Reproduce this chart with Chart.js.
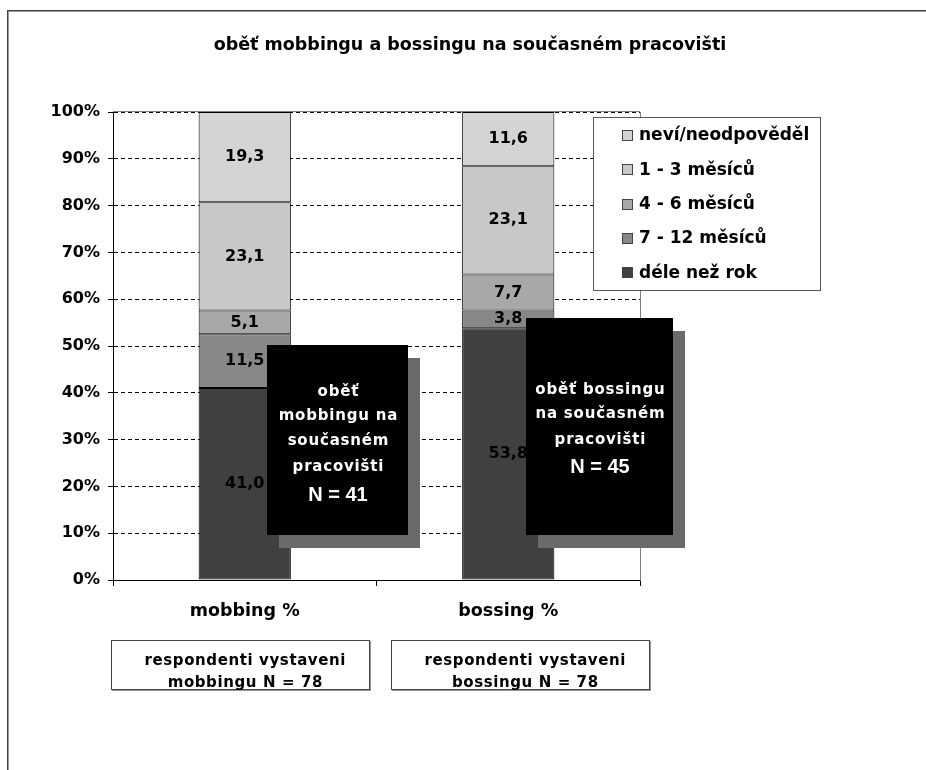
<!DOCTYPE html>
<html>
<head>
<meta charset="utf-8">
<script src="https://cdn.jsdelivr.net/npm/chart.js@4/dist/chart.umd.min.js"></script>
<style>
  body { margin: 0; background: #fff; }
  canvas { display: block; }
</style>
</head>
<body>
<canvas id="chart" width="926" height="770"></canvas>
<script>
// values (percent of respondents)
const categories = ['mobbing %', 'bossing %'];
const seriesNames = ['déle než rok', '7 - 12 měsíců', '4 - 6 měsíců', '1 - 3 měsíců', 'neví/neodpověděl'];
const deleNezRok = [41.0, 53.8];
const mesicu7az12 = [11.5, 3.8];
const mesicu4az6 = [5.1, 7.7];
const mesicu1az3 = [23.1, 23.1];
const nevi = [19.3, 11.6];
const seriesColors = ['#404040', '#888888', '#a8a8a8', '#c8c8c8', '#d4d4d4'];

const titleText = 'oběť mobbingu a bossingu na současném pracovišti';
const noteMobbing = ['oběť', 'mobbingu na', 'současném', 'pracovišti', 'N = 41'];
const noteBossing = ['oběť bossingu', 'na současném', 'pracovišti', 'N = 45'];
const baseMobbing = ['respondenti vystaveni', 'mobbingu N = 78'];
const baseBossing = ['respondenti vystaveni', 'bossingu N = 78'];

const FONT = 'DejaVu Sans';

function spaced(ctx, txt, x, y, sp) {
    ctx.letterSpacing = sp + 'px';
    ctx.fillText(txt, x + sp / 2, y);
    ctx.letterSpacing = '0px';
}

// frame, plot border, white background
const backgroundPlugin = {
    id: 'background',
    beforeDraw(chart) {
        const ctx = chart.ctx;
        const a = chart.chartArea;
        ctx.save();
        ctx.fillStyle = '#fff';
        ctx.fillRect(0, 0, chart.width, chart.height);
        ctx.fillStyle = '#444';
        ctx.fillRect(7, 10, chart.width - 7, 1);
        ctx.fillRect(7, 10, 1, chart.height - 10);
        ctx.fillStyle = '#999';
        ctx.fillRect(8, 11, chart.width - 8, 1);
        ctx.fillRect(8, 11, 1, chart.height - 11);
        ctx.fillStyle = '#808080';
        ctx.fillRect(a.left, a.top - 1, a.right - a.left, 1);
        ctx.restore();
    }
};

// value labels in the bar segments
const valueLabels = {
    id: 'valueLabels',
    afterDatasetsDraw(chart) {
        const ctx = chart.ctx;
        ctx.save();
        ctx.font = 'bold 16px "' + FONT + '"';
        ctx.fillStyle = '#000';
        ctx.textAlign = 'center';
        ctx.textBaseline = 'middle';
        chart.data.datasets.forEach((ds, i) => {
            chart.getDatasetMeta(i).data.forEach((bar, j) => {
                const txt = ds.data[j].toFixed(1).replace('.', ',');
                ctx.fillText(txt, bar.x, (bar.y + bar.base) / 2);
            });
        });
        ctx.restore();
    }
};

// legend, text boxes
const annotations = {
    id: 'annotations',
    afterDraw(chart) {
        const ctx = chart.ctx;
        ctx.save();

        // legend
        ctx.fillStyle = '#fff';
        ctx.fillRect(593, 117, 228, 174);
        ctx.strokeStyle = '#555';
        ctx.lineWidth = 1;
        ctx.strokeRect(593.5, 117.5, 227, 173);
        ctx.font = 'bold 17px "' + FONT + '"';
        ctx.textBaseline = 'middle';
        ctx.textAlign = 'left';
        const items = chart.data.datasets.slice().reverse();
        items.forEach((ds, i) => {
            const y = 135 + i * 34.3;
            ctx.fillStyle = ds.backgroundColor;
            ctx.fillRect(622, Math.round(y) - 5, 11, 11);
            ctx.strokeStyle = '#444';
            ctx.strokeRect(622.5, Math.round(y) - 4.5, 10, 10);
            ctx.fillStyle = '#000';
            ctx.fillText(ds.label, 639, y + 1);
        });

        // black notes with shadow
        const notes = [
            { x: 267, y: 345, w: 141, h: 190, cx: 338, lines: noteMobbing, ys: [392, 416, 441, 467, 495] },
            { x: 526, y: 318, w: 147, h: 217, cx: 600, lines: noteBossing, ys: [390, 414, 440, 467] }
        ];
        notes.forEach(n => {
            ctx.fillStyle = '#6a6a6a';
            ctx.fillRect(n.x + 12, n.y + 13, n.w, n.h);
            ctx.fillStyle = '#000';
            ctx.fillRect(n.x, n.y, n.w, n.h);
            ctx.fillStyle = '#fff';
            ctx.textAlign = 'center';
            n.lines.forEach((t, k) => {
                if (t.startsWith('N =')) {
                    ctx.font = 'bold 20px "Liberation Sans"';
                    ctx.fillText(t, n.cx, n.ys[k]);
                } else {
                    ctx.font = 'bold 15px "' + FONT + '"';
                    spaced(ctx, t, n.cx, n.ys[k], 0.8);
                }
            });
        });

        // respondent boxes under the axis
        const bases = [
            { x: 111, lines: baseMobbing },
            { x: 391, lines: baseBossing }
        ];
        bases.forEach(b => {
            ctx.fillStyle = '#999';
            ctx.fillRect(b.x + 1, 641, 259, 50);
            ctx.fillStyle = '#fff';
            ctx.fillRect(b.x, 640, 259, 50);
            ctx.strokeStyle = '#444';
            ctx.strokeRect(b.x + 0.5, 640.5, 258, 49);
            ctx.fillStyle = '#000';
            ctx.font = 'bold 15px "' + FONT + '"';
            ctx.textAlign = 'center';
            spaced(ctx, b.lines[0], b.x + 134, 661, 0.6);
            spaced(ctx, b.lines[1], b.x + 134, 683, 0.6);
        });
        ctx.restore();
    }
};

const ctx = document.getElementById('chart').getContext('2d');
new Chart(ctx, {
    type: 'bar',
    data: {
        labels: categories,
        datasets: [
            { label: seriesNames[0], data: deleNezRok, backgroundColor: seriesColors[0] },
            { label: seriesNames[1], data: mesicu7az12, backgroundColor: seriesColors[1] },
            { label: seriesNames[2], data: mesicu4az6, backgroundColor: seriesColors[2] },
            { label: seriesNames[3], data: mesicu1az3, backgroundColor: seriesColors[3] },
            { label: seriesNames[4], data: nevi, backgroundColor: seriesColors[4] }
        ].map(d => Object.assign(d, {
            borderColor: '#000',
            borderWidth: 1,
            borderSkipped: false,
            barPercentage: 0.35,
            categoryPercentage: 1
        }))
    },
    options: {
        responsive: false,
        animation: false,
        layout: { padding: { left: 14, right: 0, top: 0, bottom: 0 } },
        scales: {
            x: {
                stacked: true,
                grid: { color: '#000', drawOnChartArea: false, tickLength: 6, offset: true },
                border: { color: '#000', width: 1 },
                ticks: {
                    color: '#000',
                    padding: 15,
                    font: { family: FONT, size: 17.5, weight: 'bold' }
                },
                afterFit(scale) { scale.height = 190; }
            },
            y: {
                stacked: true,
                min: 0,
                max: 100,
                ticks: {
                    stepSize: 10,
                    color: '#000',
                    padding: 8,
                    font: { family: FONT, size: 16, weight: 'bold' },
                    callback: v => v + '%'
                },
                grid: { color: '#000', lineWidth: 1, tickLength: 5 },
                border: { color: '#000', width: 1, dash: [4, 3] },
                afterFit(scale) { scale.width = 99; }
            },
            spacer: {
                type: 'linear',
                position: 'right',
                display: true,
                grid: { display: false },
                ticks: { display: false },
                border: { display: true, color: '#808080', width: 1 },
                afterFit(scale) { scale.width = 286; }
            }
        },
        plugins: {
            legend: { display: false },
            tooltip: { enabled: false },
            title: {
                display: true,
                text: titleText,
                color: '#000',
                font: { family: FONT, size: 17.5, weight: 'bold' },
                padding: { top: 34.5, bottom: 56.5 }
            }
        }
    },
    plugins: [backgroundPlugin, valueLabels, annotations]
});
</script>
</body>
</html>
